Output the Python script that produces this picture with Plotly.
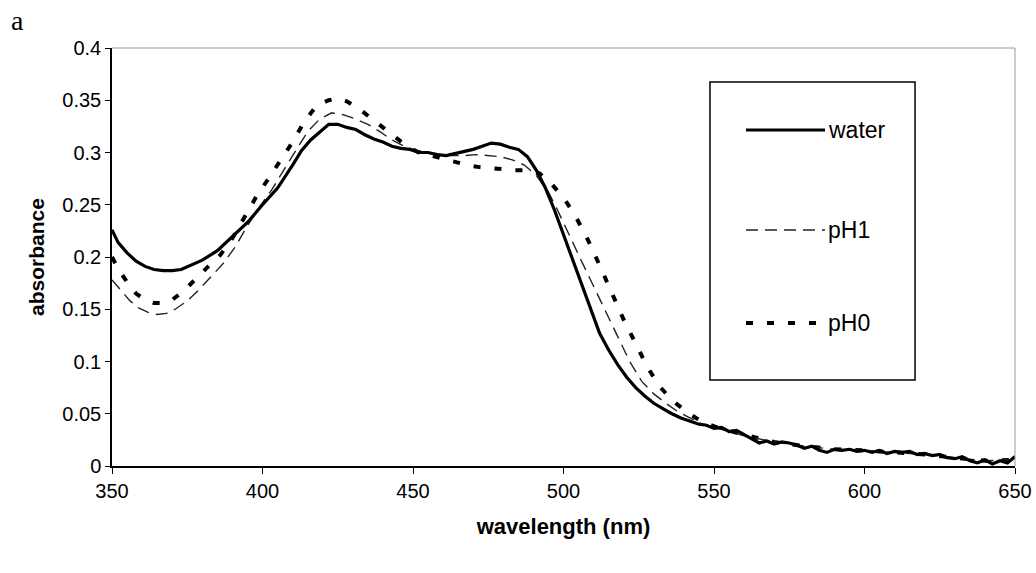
import plotly.graph_objects as go

# ---------------- data ----------------
series_names = ["water", "pH1", "pH0"]

water_wl = [350, 352, 355, 358, 361, 364, 367, 370, 373, 376, 380, 385, 390, 395, 400, 405, 410, 413, 416, 419,
            422, 425, 428, 431, 434, 437, 440, 443, 446, 449, 452, 455, 458, 461, 464, 467, 470, 473, 476, 479,
            482, 485, 488, 491, 494, 497, 500, 503, 506, 509, 512, 515, 518, 521, 524, 527, 530, 533, 536, 539,
            542, 545, 547.5, 550, 552.5, 555, 557.5, 560, 562.5, 565, 567.5, 570, 572.5, 575, 577.5, 580, 582.5,
            585, 587.5, 590, 592.5, 595, 597.5, 600, 602.5, 605, 607.5, 610, 612.5, 615, 617.5, 620, 622.5, 625,
            627.5, 630, 632.5, 635, 637.5, 640, 642.5, 645, 647.5, 650]
water_abs = [0.226, 0.214, 0.204, 0.196, 0.191, 0.188, 0.187, 0.187, 0.188, 0.192, 0.197, 0.206, 0.219, 0.233,
             0.250, 0.266, 0.288, 0.302, 0.312, 0.320, 0.327, 0.327, 0.324, 0.322, 0.317, 0.313, 0.310, 0.306,
             0.304, 0.303, 0.300, 0.300, 0.298, 0.297, 0.299, 0.301, 0.303, 0.306, 0.309, 0.308, 0.305, 0.303,
             0.296, 0.283, 0.266, 0.245, 0.221, 0.197, 0.174, 0.150, 0.127, 0.111, 0.097, 0.085, 0.075, 0.067,
             0.060, 0.055, 0.050, 0.046, 0.043, 0.040, 0.039, 0.036, 0.037, 0.033, 0.034, 0.030, 0.026, 0.022,
             0.024, 0.021, 0.023, 0.022, 0.020, 0.017, 0.019, 0.015, 0.013, 0.016, 0.015, 0.016, 0.014, 0.015,
             0.013, 0.015, 0.012, 0.014, 0.013, 0.014, 0.011, 0.012, 0.010, 0.011, 0.008, 0.007, 0.009, 0.005,
             0.003, 0.006, 0.002, 0.005, 0.003, 0.009]

ph1_wl = [350, 353, 356, 359, 362, 365, 368, 371, 375, 379, 383, 387, 391, 395, 399, 403, 407, 411, 415, 419,
          423, 427, 431, 435, 439, 443, 447, 451, 455, 459, 463, 467, 471, 475, 479, 483, 487, 491, 495, 498,
          502, 506, 510, 514, 518, 522, 526, 530, 534, 538, 542, 546, 550, 560, 570, 580, 590, 600, 610, 620,
          630, 640, 650]
ph1_abs = [0.178, 0.168, 0.158, 0.151, 0.147, 0.145, 0.146, 0.150, 0.158, 0.169, 0.181, 0.194, 0.210, 0.230,
           0.248, 0.264, 0.283, 0.302, 0.320, 0.332, 0.338, 0.336, 0.332, 0.327, 0.320, 0.312, 0.306, 0.302,
           0.300, 0.298, 0.297, 0.297, 0.298, 0.297, 0.296, 0.293, 0.288, 0.278, 0.262, 0.245, 0.220, 0.196,
           0.172, 0.148, 0.124, 0.100, 0.081, 0.069, 0.060, 0.052, 0.046, 0.040, 0.037, 0.029, 0.023, 0.019,
           0.016, 0.015, 0.013, 0.011, 0.008, 0.005, 0.006]

ph0_wl = [350, 352, 355, 358, 361, 364, 367, 370, 374, 378, 382, 386, 390, 394, 398, 402, 406, 410, 414, 418,
          422, 425, 428, 432, 436, 440, 444, 448, 452, 456, 460, 464, 468, 472, 476, 480, 484, 488, 492, 496,
          500, 504, 508, 512, 516, 520, 524, 528, 532, 536, 540, 544, 548, 552, 560, 570, 580, 590, 600, 610,
          620, 630, 640, 650]
ph0_abs = [0.200, 0.189, 0.176, 0.165, 0.159, 0.156, 0.156, 0.159, 0.168, 0.180, 0.191, 0.202, 0.218, 0.238,
           0.258, 0.275, 0.292, 0.310, 0.330, 0.345, 0.350, 0.352, 0.349, 0.342, 0.333, 0.324, 0.315, 0.306,
           0.300, 0.297, 0.294, 0.291, 0.288, 0.286, 0.285, 0.284, 0.283, 0.283, 0.280, 0.270, 0.257, 0.239,
           0.217, 0.192, 0.166, 0.140, 0.117, 0.094, 0.076, 0.063, 0.054, 0.046, 0.040, 0.036, 0.030, 0.023,
           0.019, 0.016, 0.015, 0.013, 0.011, 0.008, 0.005, 0.006]

x_ticks = [350, 400, 450, 500, 550, 600, 650]
y_ticks = [0, 0.05, 0.1, 0.15, 0.2, 0.25, 0.3, 0.35, 0.4]
y_tick_labels = ["0", "0.05", "0.1", "0.15", "0.2", "0.25", "0.3", "0.35", "0.4"]

# ---------------- styles ----------------
styles = {
    "water": dict(color="black", width=3.2, dash="solid"),
    "pH1": dict(color="#222222", width=1.4, dash="12px,7px"),
    "pH0": dict(color="black", width=4, dash="7px,14px"),
}
FONT = "Arial, Liberation Sans, sans-serif"

fig = go.Figure()
fig.add_trace(go.Scatter(x=ph0_wl, y=ph0_abs, mode="lines", name=series_names[2],
                         line=styles["pH0"], showlegend=False))
fig.add_trace(go.Scatter(x=ph1_wl, y=ph1_abs, mode="lines", name=series_names[1],
                         line=styles["pH1"], showlegend=False))
fig.add_trace(go.Scatter(x=water_wl, y=water_abs, mode="lines", name=series_names[0],
                         line=styles["water"], showlegend=False))

# manual legend box (paper coordinates)
shapes = [
    dict(type="line", xref="paper", yref="paper", x0=0, x1=1, y0=1, y1=1, line=dict(color="#9a9a9a", width=1)),
    dict(type="line", xref="paper", yref="paper", x0=1, x1=1, y0=0, y1=1, line=dict(color="#9a9a9a", width=1)),
    dict(type="rect", xref="paper", yref="paper", x0=0.6622, x1=0.8893, y0=0.2057, y1=0.9187,
         line=dict(color="black", width=1.5), fillcolor="rgba(0,0,0,0)"),
]
legend_y = [0.8038, 0.5646, 0.3421]
annotations = []
for name, ly in zip(series_names, legend_y):
    st = styles[name]
    shapes.append(dict(type="line", xref="paper", yref="paper", x0=0.7021, x1=0.7896, y0=ly, y1=ly,
                       line=dict(color=st["color"], width=st["width"], dash=st["dash"])))
    annotations.append(dict(text=name, xref="paper", yref="paper", x=0.7907, y=ly, xanchor="left",
                            yanchor="middle", showarrow=False, font=dict(family=FONT, size=23, color="black")))

annotations.append(dict(text="a", xref="paper", yref="paper", x=-0.1045, y=1.065, xanchor="center",
                        yanchor="middle", showarrow=False,
                        font=dict(family="Liberation Serif, Times New Roman, serif", size=28, color="black")))

fig.update_layout(
    width=1036, height=573,
    margin=dict(l=112, r=21, t=48, b=107),
    paper_bgcolor="white", plot_bgcolor="white",
    shapes=shapes, annotations=annotations,
    xaxis=dict(range=[350, 650], tickvals=x_ticks, ticks="outside", ticklen=6, tickwidth=1.2,
               tickcolor="black", showline=True, linecolor="black", linewidth=1.5, showgrid=False,
               zeroline=False, automargin=False, tickfont=dict(family=FONT, size=20, color="black"),
               title=dict(text="<b>wavelength (nm)</b>", font=dict(family=FONT, size=22, color="black"),
                          standoff=18)),
    yaxis=dict(range=[0, 0.4], tickvals=y_ticks, ticktext=y_tick_labels, ticks="outside", ticklen=5,
               tickwidth=1.2, tickcolor="black", showline=True, linecolor="black", linewidth=1.5,
               showgrid=False, zeroline=False, automargin=False,
               tickfont=dict(family=FONT, size=20, color="black"),
               title=dict(text="<b>absorbance</b>", font=dict(family=FONT, size=21, color="black"),
                          standoff=12)),
)

fig.write_html("out.html")
